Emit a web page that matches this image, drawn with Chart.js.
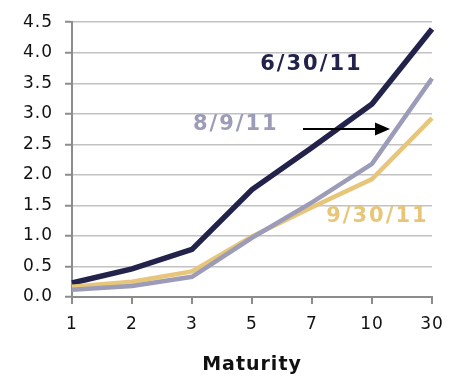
<!DOCTYPE html>
<html>
<head>
<meta charset="utf-8">
<script src="https://cdn.jsdelivr.net/npm/chart.js@4/dist/chart.umd.min.js"></script>
<style>
  html, body { margin: 0; padding: 0; background: #fff; }
  #wrap { width: 458px; height: 379px; position: relative; }
</style>
</head>
<body>
<div id="wrap"><canvas id="curve"></canvas></div>
<script>
const maturities = ["1", "2", "3", "5", "7", "10", "30"];
const yieldsJun30 = [0.23, 0.46, 0.78, 1.76, 2.45, 3.16, 4.39];
const yieldsAug9 = [0.12, 0.18, 0.33, 0.97, 1.55, 2.18, 3.58];
const yieldsSep30 = [0.17, 0.25, 0.42, 0.99, 1.47, 1.93, 2.93];
const yTickValues = [0, 0.5, 1, 1.5, 2, 2.5, 3, 3.5, 4, 4.5];

const NAVY = "#22224a";
const LILAC = "#9c9cb8";
const GOLD = "#e8c679";
const AXIS = "#8c8c8c";
const FONT = "'DejaVu Sans', Verdana, sans-serif";

// series labels written on the plot, placed in data space (category index, yield)
const seriesNotes = [
  { text: "6/30/11", color: NAVY, at: [3.99, 3.8] },
  { text: "8/9/11", color: LILAC, at: [2.73, 2.82] },
  { text: "9/30/11", color: GOLD, at: [5.09, 1.32] }
];

const spacing = {
  id: "spacing",
  beforeInit: chart => { chart.ctx.letterSpacing = "1px"; },
  beforeDraw: chart => { chart.ctx.letterSpacing = "1px"; }
};

const notes = {
  id: "notes",
  afterDatasetsDraw(chart) {
    const { ctx, scales: { x, y } } = chart;
    ctx.save();
    ctx.font = `bold 21px ${FONT}`;
    ctx.letterSpacing = "2px";
    ctx.textAlign = "center";
    ctx.textBaseline = "middle";
    seriesNotes.forEach(note => {
      ctx.fillStyle = note.color;
      ctx.fillText(note.text, x.getPixelForValue(note.at[0]), y.getPixelForValue(note.at[1]));
    });

    // arrow pointing at the 8/9/11 curve
    const ay = y.getPixelForValue(2.75);
    const x0 = x.getPixelForValue(3.85);
    const x1 = x.getPixelForValue(5.3);
    ctx.strokeStyle = "#000";
    ctx.fillStyle = "#000";
    ctx.lineWidth = 2;
    ctx.beginPath();
    ctx.moveTo(x0, ay);
    ctx.lineTo(x1 - 12, ay);
    ctx.stroke();
    ctx.beginPath();
    ctx.moveTo(x1, ay);
    ctx.lineTo(x1 - 15, ay - 6.5);
    ctx.lineTo(x1 - 15, ay + 6.5);
    ctx.closePath();
    ctx.fill();
    ctx.restore();
  }
};

function line(label, data, color, width) {
  return {
    label, data,
    borderColor: color,
    backgroundColor: color,
    borderWidth: width,
    pointRadius: 0,
    tension: 0,
    borderJoinStyle: "miter"
  };
}

new Chart(document.getElementById("curve"), {
  type: "line",
  data: {
    labels: maturities,
    datasets: [
      line("8/9/11", yieldsAug9, LILAC, 4.5),
      line("9/30/11", yieldsSep30, GOLD, 4.5),
      line("6/30/11", yieldsJun30, NAVY, 5.5)
    ]
  },
  options: {
    responsive: true,
    maintainAspectRatio: false,
    animation: false,
    layout: { padding: { top: 15, right: 26, left: 0, bottom: 0 } },
    plugins: { legend: { display: false }, tooltip: { enabled: false } },
    scales: {
      x: {
        offset: false,
        afterFit: scale => { scale.height = 82; },
        grid: { drawOnChartArea: false, tickLength: 7, color: AXIS, lineWidth: 2 },
        border: { color: AXIS, width: 2 },
        ticks: { color: "#111", font: { family: FONT, size: 17 }, padding: 10, maxRotation: 0 },
        title: {
          display: true,
          text: "Maturity",
          color: "#111",
          font: { family: FONT, size: 19, weight: "bold" },
          padding: { top: 0, bottom: 3 }
        }
      },
      y: {
        min: 0,
        max: 4.5,
        afterFit: scale => { scale.width = 72; },
        afterBuildTicks: scale => { scale.ticks = yTickValues.map(value => ({ value })); },
        grid: { color: "#c2c2c2", lineWidth: 1.5, tickLength: 7, tickColor: AXIS, tickWidth: 2 },
        border: { color: AXIS, width: 2 },
        ticks: { color: "#111", font: { family: FONT, size: 17 }, padding: 12, callback: value => value.toFixed(1) }
      }
    }
  },
  plugins: [spacing, notes]
});
</script>
</body>
</html>
